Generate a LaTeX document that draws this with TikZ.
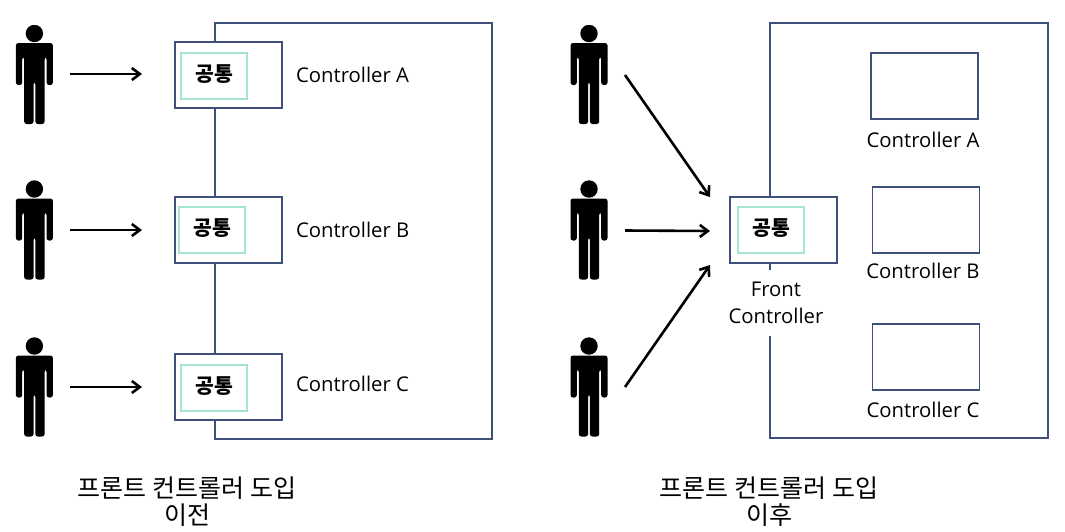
\documentclass[tikz,border=0pt]{standalone}
\usepackage{fontspec}
\setmainfont{Open Sans}
\newfontfamily\korfont{Noto Sans CJK KR}
\usetikzlibrary{positioning,arrows.meta}

\definecolor{boxnavy}{HTML}{3F4F7C}
\definecolor{boxmint}{HTML}{A5E6CE}

\begin{document}
\begin{tikzpicture}[
  x=1pt, y=-1pt,
  >={Straight Barb[length=8pt,width=12pt]},
  node distance=13pt,
  flow/.style={->, line width=2.6pt, black},
  frame/.style={draw=boxnavy, line width=1.8pt},
  person/.style={minimum width=37pt, minimum height=99pt, inner sep=0pt, outer sep=0pt,
    path picture={
      \fill[black] (path picture bounding box.center) ++(0,-41) circle (8.7);
      \fill[black, rounded corners=2.5pt, shift={(path picture bounding box.center)}]
        (-18.5,-31.5) -- (18.5,-31.5) -- (18.5,10.5) -- (12.2,10.5) -- (12.2,-17.5) -- (10.2,-17.5)
        -- (10.2,49.5) -- (0.9,49.5) -- (0.9,7.5) -- (-0.9,7.5) -- (-0.9,49.5) -- (-10.2,49.5)
        -- (-10.2,-17.5) -- (-12.2,-17.5) -- (-12.2,10.5) -- (-18.5,10.5) -- cycle;
    }},
  ctrlbox/.style={frame, fill=white, minimum width=107pt, minimum height=66pt, inner sep=0pt},
  emptybox/.style={frame, fill=white, minimum width=107pt, minimum height=66pt, inner sep=0pt},
  common/.style={draw=boxmint, line width=1.8pt, fill=white, minimum width=66pt, minimum height=46pt,
    inner sep=0pt, text height=17pt, text depth=5.8pt, font=\korfont\fontsize{20.5}{22}\selectfont\bfseries},
  ctrllabel/.style={font=\fontsize{20.3}{27}\selectfont, inner sep=0pt, align=center},
  caption/.style={font=\korfont\fontsize{25}{27}\selectfont, inner sep=0pt, align=center}
]

\useasboundingbox (0,0) rectangle (1065,531);

% left side
\draw[frame] (215,23) rectangle (492,439);

\node[person] (userA) at (34.4,74.5) {};
\node[person] (userB) at (34.4,230) {};
\node[person] (userC) at (34.4,387) {};

\node[ctrlbox] (boxA) at (228.5,75) {};
\node[ctrlbox] (boxB) at (228.5,230) {};
\node[ctrlbox] (boxC) at (228.5,387) {};

\node[common] (comA) at (214,76) {공통};
\node[common] (comB) at (212,230) {공통};
\node[common] (comC) at (214,388) {공통};

\node[ctrllabel, right=of boxA] (labA) {Controller A};
\node[ctrllabel, right=of boxB] (labB) {Controller B};
\node[ctrllabel, right=of boxC, yshift=3pt] (labC) {Controller C};

\foreach \n/\y in {A/74,B/230,C/387}{
  \coordinate (from\n) at (70,\y);
  \coordinate (to\n) at (142,\y);
  \draw[flow] (from\n) -- (to\n);
}

\node[caption] (capleft) at (187,502) {프론트 컨트롤러 도입\\이전};

% right side
\draw[frame] (770,23) rectangle (1048,438);

\node[person] (userD) at (589,74.5) {};
\node[person] (userE) at (589,230) {};
\node[person] (userF) at (589,387) {};

\node[ctrllabel, fill=white, minimum height=66pt] (labF) at (776,303) {Front\\Controller};
\node[ctrlbox] (front) at (783.5,230) {};
\node[common] (comF) at (771,230) {공통};

\node[emptybox] (ctrlA) at (924.5,86) {};
\node[emptybox] (ctrlB) at (926,220) {};
\node[emptybox] (ctrlC) at (926,357) {};

\node[ctrllabel, below=12pt of ctrlA, xshift=-1.5pt] (labD) {Controller A};
\node[ctrllabel, below=9pt of ctrlB, xshift=-3pt] (labE) {Controller B};
\node[ctrllabel, below=11pt of ctrlC, xshift=-3pt] (labG) {Controller C};

\coordinate (fromD) at (625,75);
\coordinate (toD) at (710,197);
\coordinate (fromE) at (625,230.5);
\coordinate (toE) at (710,231);
\coordinate (fromF) at (625,387);
\coordinate (toF) at (710,265);
\draw[flow] (fromD) -- (toD);
\draw[flow] (fromE) -- (toE);
\draw[flow] (fromF) -- (toF);

\node[caption] (capright) at (769,502) {프론트 컨트롤러 도입\\이후};

\end{tikzpicture}
\end{document}
